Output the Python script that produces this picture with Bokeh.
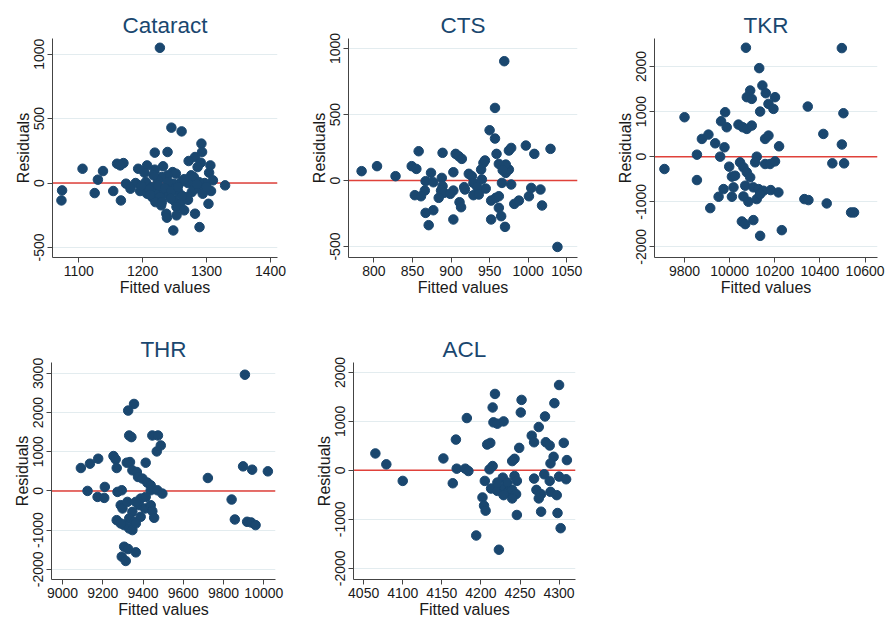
from bokeh.plotting import figure
from bokeh.layouts import column, row
from bokeh.models import Span, FixedTicker
from bokeh.embed import file_html
from bokeh.resources import INLINE

# ---------------- data ----------------
cataract_fitted = [1227, 1245, 1261, 1292, 1293, 1219, 1239, 1282, 1291, 1272, 1306, 1286,
                   1106, 1138, 1160, 1170, 1165, 1130, 1125, 1154, 1166, 1074, 1073, 1193,
                   1207, 1203, 1232, 1219, 1247, 1252, 1239, 1229, 1276, 1280, 1304, 1310,
                   1329, 1297, 1288, 1271, 1260, 1248, 1240, 1224, 1205, 1189, 1174, 1181,
                   1196, 1207, 1215, 1223, 1233, 1227, 1241, 1249, 1256, 1259, 1253, 1237,
                   1238, 1229, 1220, 1253, 1265, 1248, 1289, 1282, 1271, 1277, 1281, 1289,
                   1294, 1303, 1307, 1269, 1215, 1225, 1235, 1245, 1210, 1230, 1262, 1244,
                   1212, 1255, 1265, 1285, 1300, 1198, 1217]
cataract_resid = [1050, 430, 401, 306, 241, 236, 241, 202, 158, 171, 137, 124,
                  111, 93, 150, 155, 137, 26, -78, -62, -135, -57, -135, 111,
                  137, 80, 130, 104, 85, 73, 60, 47, 60, 47, 80, 21,
                  -18, 0, 8, 0, 8, -5, 8, 21, 8, 0, -5, -44,
                  -62, -83, -109, -57, -70, -109, -96, -135, -70, -161, -186, -238,
                  -269, -173, -148, -251, -212, -368, -342, -238, -130, -70, -44, -44,
                  -83, -161, -62, -109, -30, -20, -40, -60, -50, -150, -100, -120,
                  -90, -30, 30, -10, -30, -20, 60]

cts_fitted = [957, 950, 957, 997, 1008, 1029, 959, 975, 978, 784, 804, 828, 849, 855, 858,
              889, 906, 910, 914, 874, 867, 877, 888, 889, 887, 891, 884, 866, 853, 861,
              867, 877, 871, 903, 903, 911, 913, 903, 917, 923, 927, 929, 918, 929, 936,
              940, 939, 942, 944, 945, 934, 936, 952, 958, 962, 962, 965, 970, 952, 966,
              971, 975, 971, 962, 978, 982, 988, 1001, 1004, 1016, 1018, 1038, 967, 899, 969]
cts_resid = [550, 381, 318, 265, 202, 240, 202, 227, 247, 71, 109, 33, 109, 88, 222,
             210, 202, 184, 164, 58, -5, -13, 20, -43, -76, -93, -131, -76, -111, -119,
             -245, -225, -338, -76, 63, -164, -202, -295, -50, 51, 33, -18, -68, -111, -76,
             8, 83, 134, 152, -61, -50, -106, -152, -131, -119, -207, -270, -351, -295, -18,
             58, 83, 121, 126, -30, -177, -152, -119, -56, -68, -189, -503, 78, -101, 904]

tkr_fitted = [10497, 10346, 10415, 10497, 10504, 10455, 10507, 10331, 10349, 10430, 10538,
              10551, 10231, 10219, 9711, 9800, 9855, 9855, 9914,
              10072, 10131, 10145, 10091, 10160, 10201, 10076, 10098, 10172, 10194, 10135,
              9980, 9962, 9987, 10039, 10058, 10076, 10098, 9877, 9906, 9936, 9977, 10157,
              10172, 9958, 10120, 10113, 10157, 10179, 10201, 9998, 10046, 10061, 10076,
              10091, 10010, 10024, 10069, 10105, 10128, 10150, 10182, 10216, 9973, 10017,
              9951, 10010, 10061, 10083, 10120, 10135, 10054, 10069, 10105, 10135]
tkr_resid = [2407, 1111, 504, 270, 963, -148, -148, -941, -963, -1037, -1237,
             -1237, -1630, 230, -274, 874, 44, -519, -1141,
             2415, 1963, 1578, 1467, 1407, 1319, 1319, 1281, 1170, 1059, 1000,
             985, 785, 652, 711, 652, 615, 689, 393, 489, 296, 207, 393,
             467, 0, 0, -126, -163, -163, -104, -222, -126, -237, -348,
             -459, -444, -422, -644, -681, -719, -756, -741, -793, -719, -681,
             -889, -889, -881, -1000, -941, -830, -1437, -1496, -1407, -1756]

thr_fitted = [9906, 9722, 9897, 9942, 10020, 9840, 9856, 9917, 9937, 9959,
              9091, 9136, 9177, 9124, 9174, 9207, 9210,
              9355, 9326, 9331, 9342, 9446, 9474, 9488, 9468, 9253, 9264, 9269, 9335,
              9319, 9413, 9347, 9369, 9375, 9397, 9421, 9438, 9294, 9438, 9471, 9496,
              9289, 9298, 9388, 9413, 9380, 9410, 9438, 9446, 9455, 9347, 9331, 9355,
              9388, 9269, 9306, 9331, 9347, 9364, 9289, 9306, 9326, 9364, 9294, 9314,
              9273, 9322, 9364]
thr_resid = [2966, 330, 627, 542, 500, -220, -729, -788, -805, -873,
             585, 695, 822, 0, -153, -178, 102,
             2220, 2051, 1415, 1373, 1415, 1415, 1161, 1008, 890, 805, 585, 737,
             720, 720, 525, 483, 356, 314, 212, 144, 17, 17, 17, -68,
             -364, -449, -195, -153, -364, -449, -364, -517, -686, -534, -703, -788,
             -661, -746, -873, -958, -1000, -831, -831, -1424, -1483, -1568, -1678, -1788,
             -25, -280, -280]

acl_fitted = [4065, 4079, 4100, 4152, 4164, 4168, 4169, 4180, 4184, 4182, 4194,
              4300, 4218, 4252, 4215, 4294, 4251, 4282, 4216, 4221, 4229, 4274, 4265,
              4268, 4283, 4288, 4306, 4208, 4212, 4249, 4243, 4240, 4293, 4289, 4310,
              4215, 4211, 4205, 4228, 4243, 4246, 4268, 4281, 4288, 4300, 4309, 4213,
              4221, 4230, 4234, 4240, 4245, 4229, 4240, 4271, 4277, 4289, 4297, 4274,
              4202, 4204, 4206, 4246, 4277, 4298, 4302, 4223, 4221, 4234]
acl_resid = [345, 122, -216, 243, -264, 628, 34, 34, -14, 1068, -1331,
             1743, 1561, 1439, 1284, 1372, 1182, 1101, 980, 953, 1000, 885, 709,
             574, 574, 507, 561, 527, 561, 459, 236, 189, 277, 142, 209,
             88, 20, -216, -149, -115, -216, -169, -81, -216, -128, -182, -372,
             -419, -351, -453, -399, -486, -507, -574, -399, -486, -439, -507, -574,
             -554, -723, -824, -912, -845, -872, -1182, -1622, -250, -250]

titles = ["Cataract", "CTS", "TKR", "THR", "ACL"]
x_ticks = [[1100, 1200, 1300, 1400],
           [800, 850, 900, 950, 1000, 1050],
           [9800, 10000, 10200, 10400, 10600],
           [9000, 9200, 9400, 9600, 9800, 10000],
           [4050, 4100, 4150, 4200, 4250, 4300]]
y_ticks = [[-500, 0, 500, 1000],
           [-500, 0, 500, 1000],
           [-2000, -1000, 0, 1000, 2000],
           [-2000, -1000, 0, 1000, 2000, 3000],
           [-2000, -1000, 0, 1000, 2000]]
x_ranges = [(1059, 1411), (767, 1064), (9667, 10655), (8945, 10058), (4037, 4321)]
y_ranges = [(-578, 1122), (-583, 1076), (-2236, 2620), (-2261, 3278), (-2230, 2203)]

series = [(cataract_fitted, cataract_resid), (cts_fitted, cts_resid),
          (tkr_fitted, tkr_resid), (thr_fitted, thr_resid), (acl_fitted, acl_resid)]

# width, height, left, right, top, bottom borders
geom = [(295, 310, 52, 18, 38, 53),
        (295, 310, 53, 13, 38, 53),
        (301, 310, 64, 14, 38, 53),
        (295, 312, 51, 20, 50, 43),
        (295, 312, 58, 15, 52, 42)]

FONT = "Liberation Sans"
NAVY = "#1a476f"
AXIS = "#444444"

figs = []
for i in range(5):
    w, h, bl, br, bt, bb = geom[i]
    p = figure(width=w, height=h, output_backend="svg", toolbar_location=None,
               x_range=x_ranges[i], y_range=y_ranges[i],
               min_border_left=bl, min_border_right=br,
               min_border_top=bt, min_border_bottom=bb,
               title=titles[i])
    p.title.text_font = FONT
    p.title.text_font_size = "22.5px"
    p.title.text_font_style = "normal"
    p.title.text_color = NAVY
    p.title.align = "center"
    p.title.standoff = 1
    p.outline_line_color = None
    p.background_fill_color = "white"
    p.border_fill_color = "white"
    p.xgrid.visible = False
    p.ygrid.grid_line_color = "#e3ecef"
    p.ygrid.grid_line_width = 1
    p.ygrid.ticker = FixedTicker(ticks=y_ticks[i])

    p.xaxis.ticker = FixedTicker(ticks=x_ticks[i])
    p.yaxis.ticker = FixedTicker(ticks=y_ticks[i])
    p.xaxis.major_label_overrides = {t: str(t) for t in x_ticks[i]}
    p.yaxis.major_label_overrides = {t: str(t) for t in y_ticks[i]}
    p.xaxis.axis_label = "Fitted values"
    p.yaxis.axis_label = "Residuals"
    for ax in (p.xaxis, p.yaxis):
        ax.axis_line_color = AXIS
        ax.major_tick_line_color = AXIS
        ax.minor_tick_line_color = None
        ax.major_tick_out = 5
        ax.major_tick_in = 0
        ax.major_label_text_font = FONT
        ax.major_label_text_font_size = "14px"
        ax.major_label_text_color = "#1a1a1a"
        ax.axis_label_text_font = FONT
        ax.axis_label_text_font_size = "16px"
        ax.axis_label_text_font_style = "normal"
        ax.axis_label_text_color = "#1a1a1a"
        ax.axis_label_standoff = 0
        ax.major_label_standoff = 3
    p.yaxis.major_label_orientation = "vertical"

    zero = Span(location=0, dimension="width", line_color="#e0413a",
                line_width=1.5, level="underlay")
    p.add_layout(zero)

    xs, ys = series[i]
    p.scatter(xs, ys, size=9.5, marker="circle", fill_color=NAVY, line_color=NAVY)
    figs.append(p)

layout = column(row(figs[0], figs[1], figs[2]), row(figs[3], figs[4]))
open("out.html", "w").write(file_html(layout, INLINE))
